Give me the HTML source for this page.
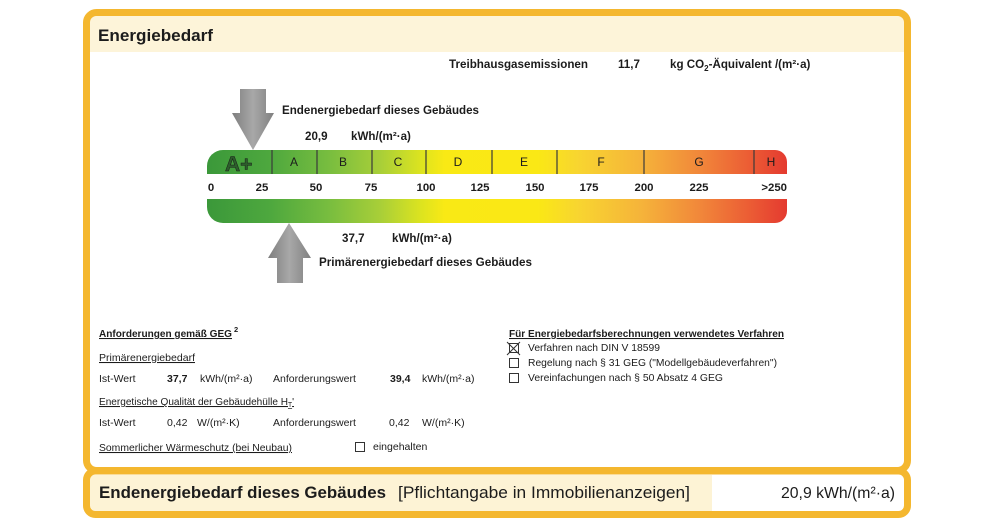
<!DOCTYPE html>
<html><head><meta charset="utf-8"><style>
html,body{margin:0;padding:0;background:#fff;}
svg{display:block;}
text{font-family:"Liberation Sans",Arial,sans-serif;fill:#1c1c1c;}
</style></head><body>
<svg width="1000" height="529" viewBox="0 0 1000 529" xmlns="http://www.w3.org/2000/svg">
<defs>
<linearGradient id="sc" gradientUnits="userSpaceOnUse" x1="207" y1="0" x2="787" y2="0">
<stop offset="0" stop-color="#3b983a"/>
<stop offset="0.11" stop-color="#4ea83e"/>
<stop offset="0.21" stop-color="#78bd3f"/>
<stop offset="0.30" stop-color="#a9cf38"/>
<stop offset="0.37" stop-color="#dde41f"/>
<stop offset="0.41" stop-color="#f9e915"/>
<stop offset="0.57" stop-color="#fae815"/>
<stop offset="0.64" stop-color="#f8d530"/>
<stop offset="0.75" stop-color="#f5b33a"/>
<stop offset="0.85" stop-color="#f1873a"/>
<stop offset="0.94" stop-color="#eb5a34"/>
<stop offset="1" stop-color="#e43a30"/>
</linearGradient>
<linearGradient id="ar" x1="0" y1="0" x2="1" y2="0">
<stop offset="0" stop-color="#7e7e7e"/>
<stop offset="0.5" stop-color="#a8a8a8"/>
<stop offset="1" stop-color="#808080"/>
</linearGradient>
</defs>

<!-- top box -->
<rect x="86.5" y="12.5" width="821" height="458" rx="10" fill="#fff"/>
<path d="M90,52 L90,23 A7,7 0 0 1 97,16 L897,16 A7,7 0 0 1 904,23 L904,52 Z" fill="#fdf4d9"/>
<rect x="86.5" y="12.5" width="821" height="458" rx="10" fill="none" stroke="#f4b72f" stroke-width="7"/>

<!-- bottom box -->
<rect x="86.5" y="471" width="821" height="43.5" rx="9" fill="#fff"/>
<path d="M90,475 L712,475 L712,511 L96,511 A6,6 0 0 1 90,505 Z" fill="#fdf3d5"/>
<rect x="86.5" y="471" width="821" height="43.5" rx="9" fill="none" stroke="#f4b72f" stroke-width="7"/>

<!-- header -->
<text x="98" y="41" font-size="17" font-weight="bold" textLength="115" lengthAdjust="spacingAndGlyphs">Energiebedarf</text>

<!-- Treibhaus -->
<text x="449" y="68" font-size="11.6" font-weight="bold" textLength="139" lengthAdjust="spacingAndGlyphs">Treibhausgasemissionen</text>
<text x="618" y="68" font-size="11.6" font-weight="bold">11,7</text>
<text x="670" y="68" font-size="11.6" font-weight="bold">kg CO<tspan font-size="8" dy="3">2</tspan><tspan dy="-3">-Äquivalent /(m²·a)</tspan></text>

<!-- top arrow -->
<polygon points="240,89 266,89 266,113 274,113 253,150 232,113 240,113" fill="url(#ar)"/>
<text x="282" y="114" font-size="11.6" font-weight="bold" textLength="197" lengthAdjust="spacingAndGlyphs">Endenergiebedarf dieses Gebäudes</text>
<text x="305" y="140" font-size="11.6" font-weight="bold">20,9</text>
<text x="351" y="140" font-size="11.6" font-weight="bold">kWh/(m²·a)</text>

<!-- scale bars -->
<path d="M207,174 L207,166 A16,16 0 0 1 223,150 L775,150 A12,12 0 0 1 787,162 L787,174 Z" fill="url(#sc)"/>
<path d="M207,199 L787,199 L787,211 A12,12 0 0 1 775,223 L223,223 A16,16 0 0 1 207,207 Z" fill="url(#sc)"/>
<g stroke="#3a3a3a" stroke-width="1.2">
<line x1="272" y1="150" x2="272" y2="174"/>
<line x1="317" y1="150" x2="317" y2="174"/>
<line x1="372" y1="150" x2="372" y2="174"/>
<line x1="426" y1="150" x2="426" y2="174"/>
<line x1="492" y1="150" x2="492" y2="174"/>
<line x1="557" y1="150" x2="557" y2="174"/>
<line x1="644" y1="150" x2="644" y2="174"/>
<line x1="754" y1="150" x2="754" y2="174"/>
</g>
<text x="225" y="171" font-size="21" font-weight="bold" style="fill:#2c5e2b;stroke:#1a1a1a;stroke-width:0.5">A+</text>
<g font-size="12" text-anchor="middle" style="fill:#333">
<text x="294" y="166">A</text>
<text x="343" y="166">B</text>
<text x="398" y="166">C</text>
<text x="458" y="166">D</text>
<text x="524" y="166">E</text>
<text x="601" y="166">F</text>
<text x="699" y="166">G</text>
<text x="771" y="166">H</text>
</g>
<g font-size="11.4" font-weight="bold" text-anchor="middle">
<text x="211" y="191">0</text>
<text x="262" y="191">25</text>
<text x="316" y="191">50</text>
<text x="371" y="191">75</text>
<text x="426" y="191">100</text>
<text x="480" y="191">125</text>
<text x="535" y="191">150</text>
<text x="589" y="191">175</text>
<text x="644" y="191">200</text>
<text x="699" y="191">225</text>
<text x="787" y="191" text-anchor="end">&gt;250</text>
</g>

<!-- bottom arrow -->
<polygon points="289,223 311,258 303,258 303,283 277,283 277,258 268,258" fill="url(#ar)"/>
<text x="342" y="242" font-size="11.6" font-weight="bold">37,7</text>
<text x="392" y="242" font-size="11.6" font-weight="bold">kWh/(m²·a)</text>
<text x="319" y="266" font-size="11.6" font-weight="bold" textLength="213" lengthAdjust="spacingAndGlyphs">Primärenergiebedarf dieses Gebäudes</text>

<!-- left requirements -->
<g font-size="10.5">
<text x="99" y="337" font-weight="bold" text-decoration="underline" textLength="133" lengthAdjust="spacingAndGlyphs">Anforderungen gemäß GEG</text>
<text x="234" y="332" font-size="7.5" font-weight="bold">2</text>
<text x="99" y="361" text-decoration="underline" textLength="96" lengthAdjust="spacingAndGlyphs">Primärenergiebedarf</text>
<text x="99" y="382">Ist-Wert</text>
<text x="167" y="382" font-weight="bold">37,7</text>
<text x="200" y="382">kWh/(m²·a)</text>
<text x="273" y="382">Anforderungswert</text>
<text x="390" y="382" font-weight="bold">39,4</text>
<text x="422" y="382">kWh/(m²·a)</text>
<text x="99" y="405" text-decoration="underline" textLength="195" lengthAdjust="spacingAndGlyphs">Energetische Qualität der Gebäudehülle H<tspan font-size="7" dy="2">T</tspan><tspan dy="-2">'</tspan></text>
<text x="99" y="426">Ist-Wert</text>
<text x="167" y="426">0,42</text>
<text x="197" y="426">W/(m²·K)</text>
<text x="273" y="426">Anforderungswert</text>
<text x="389" y="426">0,42</text>
<text x="422" y="426">W/(m²·K)</text>
<text x="99" y="451" text-decoration="underline" textLength="193" lengthAdjust="spacingAndGlyphs">Sommerlicher Wärmeschutz (bei Neubau)</text>
<text x="373" y="450">eingehalten</text>
</g>
<rect x="355.5" y="442.5" width="9" height="9" fill="none" stroke="#333" stroke-width="1"/>

<!-- right procedure -->
<g font-size="10.5">
<text x="509" y="337" font-weight="bold" text-decoration="underline" textLength="275" lengthAdjust="spacingAndGlyphs">Für Energiebedarfsberechnungen verwendetes Verfahren</text>
<text x="528" y="351" textLength="132" lengthAdjust="spacingAndGlyphs">Verfahren nach DIN V 18599</text>
<text x="528" y="366" textLength="249" lengthAdjust="spacingAndGlyphs">Regelung nach § 31 GEG ("Modellgebäudeverfahren")</text>
<text x="528" y="381" textLength="195" lengthAdjust="spacingAndGlyphs">Vereinfachungen nach § 50 Absatz 4 GEG</text>
</g>
<g fill="none" stroke="#333" stroke-width="1">
<rect x="509.5" y="343.5" width="9" height="9"/>
<line x1="507" y1="342" x2="520" y2="355"/>
<line x1="520" y1="342" x2="507" y2="355"/>
<rect x="509.5" y="358.5" width="9" height="9"/>
<rect x="509.5" y="373.5" width="9" height="9"/>
</g>

<!-- bottom box text -->
<text x="99" y="498" font-size="17" font-weight="bold" textLength="287" lengthAdjust="spacingAndGlyphs">Endenergiebedarf dieses Gebäudes</text>
<text x="398" y="498" font-size="17" textLength="292" lengthAdjust="spacingAndGlyphs">[Pflichtangabe in Immobilienanzeigen]</text>
<text x="781" y="498" font-size="16" textLength="114" lengthAdjust="spacingAndGlyphs">20,9 kWh/(m²·a)</text>
</svg>
</body></html>
